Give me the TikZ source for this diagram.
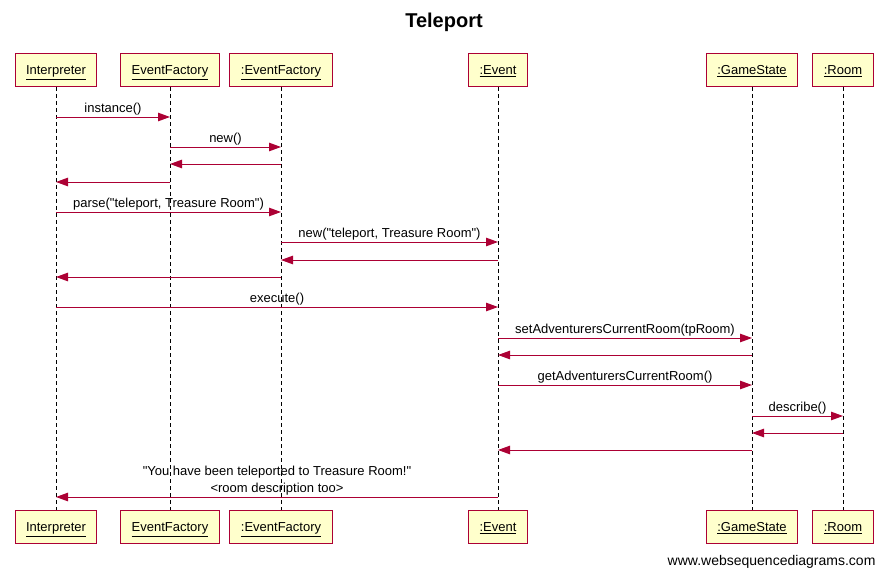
\documentclass[tikz,border=0pt]{standalone}
\usepackage{fontspec}
\setmainfont{Liberation Sans}[Ligatures=TeXOff]
\usetikzlibrary{arrows.meta}
\definecolor{wsdred}{RGB}{172,0,52}
\definecolor{wsdyellow}{RGB}{255,255,204}
\begin{document}
\begin{tikzpicture}[x=1pt,y=-1pt,
    actor/.style={draw=wsdred,fill=wsdyellow,line width=1pt,minimum height=33pt,
      inner xsep=11pt,text height=12pt,text depth=2.7pt,font=\fontsize{13}{15}\selectfont},
    lifeline/.style={black,line width=0.9pt,dash pattern=on 4pt off 3pt},
    msg/.style={wsdred,line width=0.9pt,-{Triangle[length=12pt,width=8.5pt]}},
    lbl/.style={black,above,inner sep=1.5pt,font=\fontsize{13}{17}\selectfont}]
  \useasboundingbox (0,0) rectangle (888,577);

  \node[font=\fontsize{20}{24}\selectfont\bfseries] (title) at (444,22) {Teleport};

  % participants, top and bottom
  \node[actor] (interp) at (56,70) {\underline{Interpreter}};
  \node[actor] (efac) at (170,70) {\underline{EventFactory}};
  \node[actor] (evfac) at (281,70) {\underline{:EventFactory}};
  \node[actor] (event) at (498,70) {\underline{:Event}};
  \node[actor] (gstate) at (752,70) {\underline{:GameState}};
  \node[actor] (room) at (843,70) {\underline{:Room}};

  \node[actor] (interpB) at (56,527) {\underline{Interpreter}};
  \node[actor] (efacB) at (170,527) {\underline{EventFactory}};
  \node[actor] (evfacB) at (281,527) {\underline{:EventFactory}};
  \node[actor] (eventB) at (498,527) {\underline{:Event}};
  \node[actor] (gstateB) at (752,527) {\underline{:GameState}};
  \node[actor] (roomB) at (843,527) {\underline{:Room}};

  \draw[lifeline] (interp) -- (interpB);
  \draw[lifeline] (efac) -- (efacB);
  \draw[lifeline] (evfac) -- (evfacB);
  \draw[lifeline] (event) -- (eventB);
  \draw[lifeline] (gstate) -- (gstateB);
  \draw[lifeline] (room) -- (roomB);

  % message rows
  \foreach \y [count=\i] in {117,147,164,182,212,242,260,277,307,338,355,385,416,433,450,497}
    \coordinate (r\i) at (0,\y);

  \draw[msg] (interp |- r1) -- node[lbl]{instance()} (efac |- r1);
  \draw[msg] (efac |- r2) -- node[lbl]{new()} (evfac |- r2);
  \draw[msg] (evfac |- r3) -- (efac |- r3);
  \draw[msg] (efac |- r4) -- (interp |- r4);
  \draw[msg] (interp |- r5) -- node[lbl]{parse("teleport, Treasure Room")} (evfac |- r5);
  \draw[msg] (evfac |- r6) -- node[lbl]{new("teleport, Treasure Room")} (event |- r6);
  \draw[msg] (event |- r7) -- (evfac |- r7);
  \draw[msg] (evfac |- r8) -- (interp |- r8);
  \draw[msg] (interp |- r9) -- node[lbl]{execute()} (event |- r9);
  \draw[msg] (event |- r10) -- node[lbl]{setAdventurersCurrentRoom(tpRoom)} (gstate |- r10);
  \draw[msg] (gstate |- r11) -- (event |- r11);
  \draw[msg] (event |- r12) -- node[lbl]{getAdventurersCurrentRoom()} (gstate |- r12);
  \draw[msg] (gstate |- r13) -- node[lbl]{describe()} (room |- r13);
  \draw[msg] (room |- r14) -- (gstate |- r14);
  \draw[msg] (gstate |- r15) -- (event |- r15);
  \draw[msg] (event |- r16) -- node[lbl,align=center]{"You have been teleported to Treasure Room!"\\<room description too>} (interp |- r16);

  \node[anchor=east,font=\fontsize{14}{16}\selectfont] (credit) at (879,562) {www.websequencediagrams.com};
\end{tikzpicture}
\end{document}
